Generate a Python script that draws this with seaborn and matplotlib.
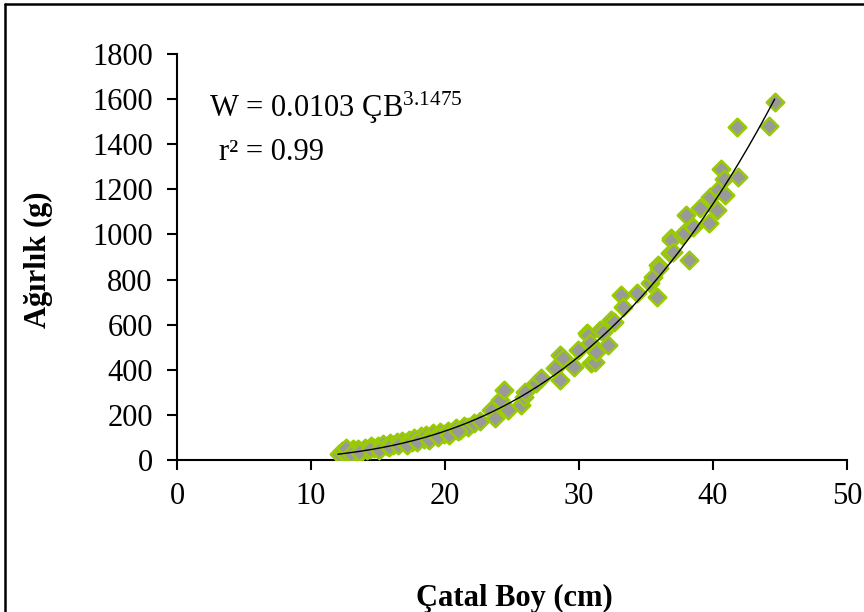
import numpy as np
import pandas as pd
import matplotlib
matplotlib.use("Agg")
import matplotlib.pyplot as plt
import seaborn as sns
from matplotlib.lines import Line2D

# ---- data ----
length_cm = [
    12.1, 12.3, 12.5, 12.7, 12.9, 13.1, 13.3, 13.5, 13.8, 14.0,
    14.2, 14.5, 14.7, 15.0, 15.2, 15.4, 15.7, 15.9, 16.1, 16.4,
    16.6, 16.8, 17.0, 17.3, 17.5, 17.7, 18.0, 18.2, 18.4, 18.6,
    18.9, 19.1, 19.4, 19.6, 19.9, 20.2, 20.5, 20.8, 21.1, 21.4,
    21.7, 22.2, 22.6, 23.4, 23.7, 24.1, 24.4, 24.7, 25.7, 25.9,
    26.0, 26.8, 27.2, 28.2, 28.6, 28.6, 28.8, 29.6, 29.9, 30.6,
    30.7, 30.8, 30.9, 31.2, 31.3, 31.6, 31.8, 32.2, 32.4, 32.6,
    33.1, 33.3, 34.3, 35.3, 35.5, 35.8, 35.9, 36.0, 36.8, 36.9,
    36.9, 37.0, 37.7, 37.8, 38.0, 38.2, 38.5, 39.0, 39.7, 39.8,
    40.3, 40.4, 40.6, 40.8, 40.9, 41.8, 41.9, 44.2, 44.6,
    12.6, 13.0, 13.6, 14.4, 15.1, 15.8, 16.5, 17.2, 17.9, 18.8,
    19.5, 20.3, 21.0,
]
weight_g = [
    25, 38, 30, 45, 35, 48, 40, 50, 42, 55,
    46, 60, 52, 62, 55, 70, 60, 75, 66, 80,
    70, 85, 77, 90, 82, 98, 88, 105, 95, 112,
    100, 118, 108, 125, 115, 130, 122, 140, 135, 150,
    145, 165, 175, 222, 185, 266, 310, 222, 244, 281,
    303, 340, 362, 406, 355, 465, 451, 414, 488, 562,
    554, 517, 429, 436, 480, 576, 569, 510, 621, 613,
    731, 680, 739, 783, 812, 724, 864, 850, 916, 983,
    975, 923, 997, 1005, 1086, 886, 1034, 1116, 1049, 1167,
    1108, 1197, 1288, 1244, 1175, 1478, 1256, 1480, 1588,
    52, 28, 36, 50, 45, 56, 65, 68, 80, 90,
    100, 112, 128,
]
x_ticks = [0, 10, 20, 30, 40, 50]
y_ticks = [0, 200, 400, 600, 800, 1000, 1200, 1400, 1600, 1800]
coef_a = 0.0103
coef_b = 3.1475
fit_range = (12.0, 44.6)

df = pd.DataFrame({"Çatal Boy (cm)": length_cm, "Ağırlık (g)": weight_g})

# ---- style ----
sns.set_theme(style="white")
plt.rcParams["font.family"] = ["Liberation Serif", "DejaVu Serif"]
plt.rcParams["mathtext.fontset"] = "custom"
plt.rcParams["mathtext.rm"] = "Liberation Serif"
plt.rcParams["mathtext.it"] = "Liberation Serif:italic"
plt.rcParams["text.color"] = "black"
plt.rcParams["axes.labelcolor"] = "black"
plt.rcParams["xtick.color"] = "black"
plt.rcParams["ytick.color"] = "black"

fig = plt.figure(figsize=(8.64, 6.12), dpi=100)
ax = fig.add_axes([177 / 864, 1 - 460 / 612, (847 - 177) / 864, (460 - 54) / 612])

sns.scatterplot(data=df, x="Çatal Boy (cm)", y="Ağırlık (g)", ax=ax,
                marker="D", s=80, color="#999999", edgecolor="#99CC00",
                linewidth=1.8, zorder=3, legend=False)

xf = np.linspace(fit_range[0], fit_range[1], 200)
sns.lineplot(x=xf, y=coef_a * xf ** coef_b, ax=ax, color="black", lw=1.0,
             zorder=4, legend=False)

ax.set_xlim(0, 50)
ax.set_ylim(0, 1800)
ax.set_xticks(x_ticks)
ax.set_yticks(y_ticks)
ax.tick_params(axis="both", which="major", direction="out", length=7, width=1.5,
               labelsize=22, color="black", labelcolor="black",
               bottom=True, left=True)
ax.tick_params(axis="x", pad=9)
ax.tick_params(axis="y", pad=10.5)
for side in ["top", "right"]:
    ax.spines[side].set_visible(False)
for side in ["left", "bottom"]:
    ax.spines[side].set_color("black")
    ax.spines[side].set_linewidth(1.5)
ax.grid(False)

ax.set_xlabel("")
ax.set_ylabel("")
fig.text(514 / 864, 1 - 598 / 612, "Çatal Boy (cm)", ha="center", va="center",
         fontsize=22, fontweight="bold", color="black")
fig.text(38 / 864, 1 - 260 / 612, "Ağırlık (g)", ha="center", va="center",
         rotation=90, fontsize=22, fontweight="bold", color="black")

ax.text(2.4, 1560, r"W = 0.0103 ÇB$^{\mathrm{3.1475}}$", fontsize=22,
        ha="left", va="center", color="black")
ax.text(3.1, 1362, "r² = 0.99", fontsize=22, ha="left", va="center", color="black")

# outer chart border (left and top edges visible)
fig.add_artist(Line2D([5 / 864, 5 / 864], [0, 1 - 4 / 612], transform=fig.transFigure,
                      color="black", lw=1.8))
fig.add_artist(Line2D([5 / 864, 1], [1 - 4 / 612, 1 - 4 / 612], transform=fig.transFigure,
                      color="black", lw=1.8))

fig.savefig("out.png", dpi=100)
